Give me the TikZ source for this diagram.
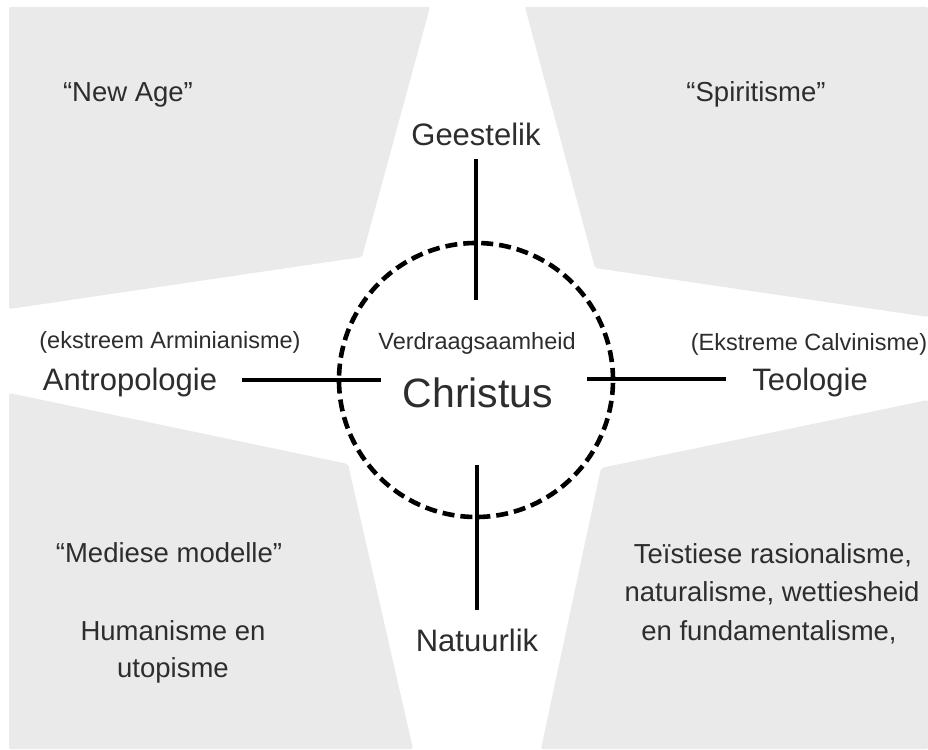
\documentclass[tikz,border=0pt]{standalone}
\usepackage{fontspec}
\setmainfont{Liberation Sans}
\definecolor{panel}{RGB}{234,234,234}
\definecolor{ink}{RGB}{45,45,45}
\begin{document}
\begin{tikzpicture}[x=1pt,y=-1pt,
  panelshape/.style={fill=panel, draw=none, rounded corners=2pt},
  lbl/.style={text=ink, anchor=base, inner sep=0pt},
  smalllbl/.style={lbl, font=\fontsize{23.5}{28}\selectfont},
  biglbl/.style={lbl, font=\fontsize{31}{37}\selectfont},
  cornerlbl/.style={lbl, font=\fontsize{27.5}{38}\selectfont},
  axisline/.style={line width=3.6pt, black},
  ring/.style={draw=black, line width=4.6pt, dash pattern=on 12pt off 6pt, fill=none},
]
\useasboundingbox[fill=white] (0,0) rectangle (928,749);
% grey panels
\fill[panelshape] (9,7) -- (430,7) -- (362,257) -- (9,309) -- cycle;
\fill[panelshape] (525,7) -- (928,7) -- (928,317) -- (595,268) -- cycle;
\fill[panelshape] (9,393) -- (348,464) -- (413,749) -- (9,749) -- cycle;
\fill[panelshape] (601,468) -- (928,400) -- (928,749) -- (541,749) -- cycle;
% circle
\node[ring, circle, minimum size=274pt, inner sep=0pt] (ringc) at (476,380) {};
% axis end points
\coordinate (t1) at (476,159); \coordinate (t2) at (476,300);
\coordinate (b1) at (477,465); \coordinate (b2) at (477,610);
\coordinate (l1) at (242,380); \coordinate (l2) at (381,380);
\coordinate (r1) at (587,379); \coordinate (r2) at (726,379);
\draw[axisline] (t1) -- (t2);
\draw[axisline] (b1) -- (b2);
\draw[axisline] (l1) -- (l2);
\draw[axisline] (r1) -- (r2);
% labels
\node[cornerlbl] (newage) at (128,102) {“New Age”};
\node[cornerlbl] (spirit) at (756,102) {“Spiritisme”};
\node[biglbl] (geest) at (476,145) {Geestelik};
\node[smalllbl] (armin) at (170,348) {(ekstreem Arminianisme)};
\node[biglbl] (antro) at (130,390) {Antropologie};
\node[smalllbl] (verdr) at (477,349) {Verdraagsaamheid};
\node[lbl, font=\fontsize{41}{48}\selectfont] (christ) at (478,407) {Christus};
\node[smalllbl] (calvin) at (809,350) {(Ekstreme Calvinisme)};
\node[biglbl] (teol) at (810,390) {Teologie};
\node[biglbl] (natuur) at (477,651) {Natuurlik};
\node[cornerlbl] (mediese) at (169,562) {“Mediese modelle”};
\node[cornerlbl] (human1) at (173,640) {Humanisme en};
\node[cornerlbl] (human2) at (173,677) {utopisme};
\node[cornerlbl] (teis1) at (773,563) {Teïstiese rasionalisme,};
\node[cornerlbl] (teis2) at (772,601) {naturalisme, wettiesheid};
\node[cornerlbl] (teis3) at (769,640) {en fundamentalisme,};
\end{tikzpicture}
\end{document}
